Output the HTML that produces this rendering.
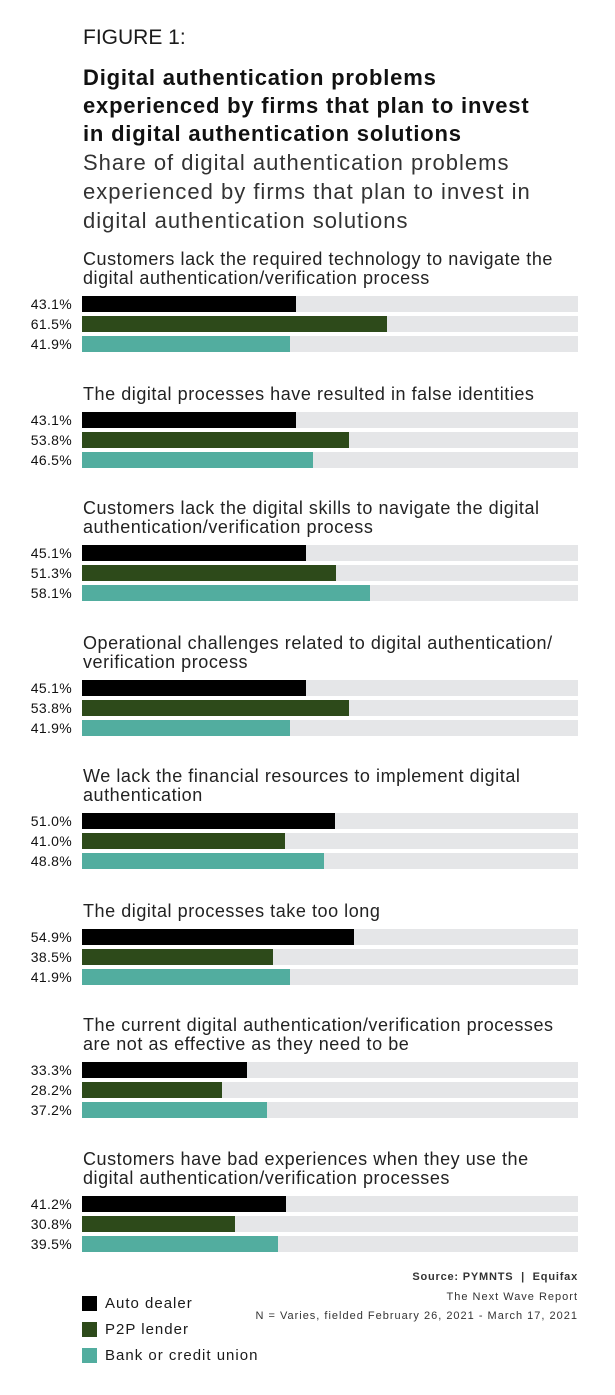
<!DOCTYPE html>
<html><head><meta charset="utf-8"><style>
body{margin:0;width:615px;height:1395px;background:#fff;font-family:"Liberation Sans",sans-serif;color:#1a1a1a;position:relative;overflow:hidden}
.a{position:absolute;white-space:nowrap}
.t{position:absolute;left:83px;font-size:18px;letter-spacing:0.55px;line-height:19px;color:#222}
.bg{position:absolute;left:82px;width:496px;height:16px;background:#e5e6e8}
.b{position:absolute;left:0;top:0;height:16px}
.l{position:absolute;right:543px;font-size:14px;line-height:16px;color:#111;letter-spacing:0.3px}
</style></head><body>
<div class="a" style="left:83px;top:26px;font-size:21px">FIGURE 1:</div>
<div class="a" style="left:83px;top:64px;font-size:22px;letter-spacing:0.8px;font-weight:bold;line-height:28px;color:#111">Digital authentication problems<br>experienced by firms that plan to invest<br>in digital authentication solutions</div>
<div class="a" style="left:83px;top:148px;font-size:22px;letter-spacing:1px;line-height:29px;color:#333">Share of digital authentication problems<br>experienced by firms that plan to invest in<br>digital authentication solutions</div>
<div id="c"></div>
<div class="a" style="left:82px;top:1296px;width:15px;height:15px;background:#000"></div>
<div class="a" style="left:82px;top:1322px;width:15px;height:15px;background:#2d4a1a"></div>
<div class="a" style="left:82px;top:1348px;width:15px;height:15px;background:#52ad9f"></div>
<div class="a" style="left:105px;top:1295px;font-size:15px;letter-spacing:1px">Auto dealer</div>
<div class="a" style="left:105px;top:1321px;font-size:15px;letter-spacing:1px">P2P lender</div>
<div class="a" style="left:105px;top:1347px;font-size:15px;letter-spacing:1px">Bank or credit union</div>
<div class="a" style="right:37px;top:1271px;font-size:11px;letter-spacing:0.8px;font-weight:bold;color:#333">Source: PYMNTS &nbsp;| &nbsp;Equifax</div>
<div class="a" style="right:37px;top:1291px;font-size:11px;letter-spacing:1px;color:#333">The Next Wave Report</div>
<div class="a" style="right:37px;top:1310px;font-size:11px;letter-spacing:1px;color:#333">N = Varies, fielded February 26, 2021 - March 17, 2021</div>
<script>
var g=[
[296,"Customers lack the required technology to navigate the<br>digital authentication/verification process",[43.1,61.5,41.9]],
[412,"The digital processes have resulted in false identities",[43.1,53.8,46.5]],
[545,"Customers lack the digital skills to navigate the digital<br>authentication/verification process",[45.1,51.3,58.1]],
[680,"Operational challenges related to digital authentication/<br>verification process",[45.1,53.8,41.9]],
[813,"We lack the financial resources to implement digital<br>authentication",[51.0,41.0,48.8]],
[929,"The digital processes take too long",[54.9,38.5,41.9]],
[1062,"The current digital authentication/verification processes<br>are not as effective as they need to be",[33.3,28.2,37.2]],
[1196,"Customers have bad experiences when they use the<br>digital authentication/verification processes",[41.2,30.8,39.5]]];
var col=["#000","#2d4a1a","#52ad9f"],h="";
g.forEach(function(x){var two=x[1].indexOf("<br>")>0;
h+='<div class="t" style="top:'+(x[0]-(two?46:27))+'px">'+x[1]+'</div>';
x[2].forEach(function(v,i){var y=x[0]+i*20;
h+='<div class="bg" style="top:'+y+'px"><div class="b" style="width:'+(v*4.96)+'px;background:'+col[i]+'"></div></div>';
h+='<div class="l" style="top:'+y+'px">'+v.toFixed(1)+'%</div>';});});
document.getElementById("c").innerHTML=h;
</script>
</body></html>
